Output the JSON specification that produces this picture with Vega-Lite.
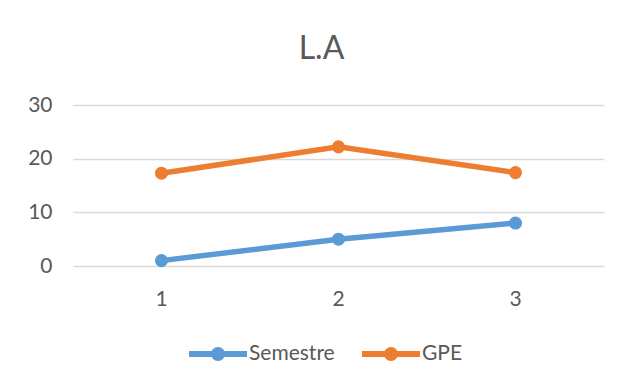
{
  "$schema": "https://vega.github.io/schema/vega-lite/v6.json",
  "autosize": "none",
  "width": 531,
  "height": 161,
  "padding": {"left": 73, "top": 105, "right": 18, "bottom": 121},
  "background": "white",
  "title": {
    "text": "L.A",
    "font": "Lato",
    "fontSize": 32,
    "fontWeight": "normal",
    "color": "#595959",
    "anchor": "middle",
    "dx": -17,
    "offset": 28
  },
  "data": {
    "values": [
      {"x": "1", "series": "Semestre", "value": 1},
      {"x": "2", "series": "Semestre", "value": 5},
      {"x": "3", "series": "Semestre", "value": 8},
      {"x": "1", "series": "GPE", "value": 17.3},
      {"x": "2", "series": "GPE", "value": 22.2},
      {"x": "3", "series": "GPE", "value": 17.4}
    ]
  },
  "mark": {
    "type": "line",
    "strokeWidth": 5.5,
    "strokeCap": "round",
    "point": {"filled": true, "size": 170, "opacity": 1}
  },
  "encoding": {
    "x": {
      "field": "x",
      "type": "ordinal",
      "scale": {"type": "band", "paddingInner": 0, "paddingOuter": 0},
      "axis": {
        "title": null,
        "labelAngle": 0,
        "domain": false,
        "ticks": false,
        "labelPadding": 22,
        "labelFont": "Lato",
        "labelFontSize": 21,
        "labelColor": "#595959"
      }
    },
    "y": {
      "field": "value",
      "type": "quantitative",
      "scale": {"domain": [0, 30], "nice": false},
      "axis": {
        "title": null,
        "values": [0, 10, 20, 30],
        "domain": false,
        "ticks": false,
        "labelPadding": 21,
        "labelFont": "Lato",
        "labelFontSize": 21,
        "labelColor": "#595959",
        "gridColor": "#d9d9d9",
        "gridWidth": 1.5
      }
    },
    "color": {
      "field": "series",
      "type": "nominal",
      "sort": ["Semestre", "GPE"],
      "scale": {"domain": ["Semestre", "GPE"], "range": ["#5B9BD5", "#ED7D31"]},
      "legend": {
        "title": null,
        "orient": "none",
        "legendX": 116,
        "legendY": 220,
        "direction": "horizontal",
        "labelFont": "Lato",
        "labelFontSize": 21,
        "labelColor": "#595959",
        "labelOffset": 2,
        "columnPadding": 27,
        "symbolType": "M-1,-0.1L1,-0.1L1,0.1L-1,0.1Z M0.24,0A0.24,0.24,0,1,1,-0.24,0A0.24,0.24,0,1,1,0.24,0Z",
        "symbolSize": 3364,
        "symbolStrokeWidth": 0,
        "encode": {
          "symbols": {
            "update": {
              "fill": {"scale": "color", "field": "value"},
              "fillOpacity": {"value": 1},
              "strokeWidth": {"value": 0}
            }
          }
        }
      }
    }
  },
  "config": {
    "view": {"stroke": null}
  }
}
